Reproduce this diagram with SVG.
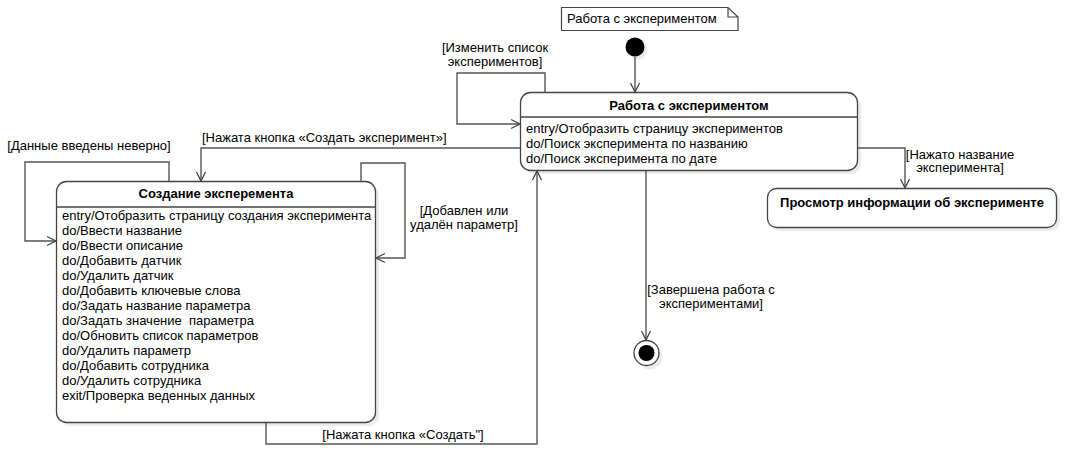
<svg xmlns="http://www.w3.org/2000/svg" width="1069" height="454" viewBox="0 0 1069 454">
<style>
text{font-family:"Liberation Sans",Arial,sans-serif;font-size:13px;fill:#000}
.b{font-weight:bold}
.c{text-anchor:middle}
.st{fill:#fff;stroke:#444;stroke-width:1.3}
.sh{fill:#000;opacity:0.08}
.ln{fill:none;stroke:#555;stroke-width:1.4}
</style>
<defs>
<marker id="a" markerUnits="userSpaceOnUse" markerWidth="12" markerHeight="12" viewBox="-10 -6 12 12" refX="0" refY="0" orient="auto">
<path d="M-9,-4.5 L0,0 L-9,4.5" fill="none" stroke="#444" stroke-width="1.3"/>
</marker>
</defs>
<rect width="1069" height="454" fill="#fff"/>
<g id="note">
<path d="M561.5,7.5 H728 L738,17 V30.5 H561.5 Z M728,7.5 V17 H738" fill="#fff" stroke="#444" stroke-width="1.2"/>
<text x="567" y="23">Работа с экспериментом</text>
</g>
<g id="initial">
<circle cx="638" cy="50" r="9.5" class="sh"/>
<circle cx="635" cy="47" r="9.5" fill="#000"/>
</g>
<g id="main">
<rect x="524" y="96" width="337" height="78" rx="10" class="sh"/>
<rect x="520.5" y="92.5" width="337" height="78" rx="10" class="st"/>
<line x1="520.5" y1="117" x2="857.5" y2="117" stroke="#444" stroke-width="1.3"/>
<text x="689" y="110" class="b c">Работа с экспериментом</text>
<text x="526" y="133">entry/Отобразить страницу экспериментов</text>
<text x="526" y="148">do/Поиск эксперимента по названию</text>
<text x="526" y="163">do/Поиск эксперимента по дате</text>
</g>
<g id="create">
<rect x="60" y="185" width="319" height="241" rx="10" class="sh"/>
<rect x="56.5" y="181.5" width="319" height="241" rx="10" class="st"/>
<line x1="56.5" y1="207" x2="375.5" y2="207" stroke="#444" stroke-width="1.3"/>
<text x="216" y="198" class="b c">Создание эксперемента</text>
<text x="62" y="220">entry/Отобразить страницу создания эксперимента</text>
<text x="62" y="235">do/Ввести название</text>
<text x="62" y="250">do/Ввести описание</text>
<text x="62" y="265">do/Добавить датчик</text>
<text x="62" y="280">do/Удалить датчик</text>
<text x="62" y="295">do/Добавить ключевые слова</text>
<text x="62" y="310">do/Задать название параметра</text>
<text x="62" y="325" xml:space="preserve">do/Задать значение  параметра</text>
<text x="62" y="340">do/Обновить список параметров</text>
<text x="62" y="355">do/Удалить параметр</text>
<text x="62" y="370">do/Добавить сотрудника</text>
<text x="62" y="385">do/Удалить сотрудника</text>
<text x="62" y="400">exit/Проверка веденных данных</text>
</g>
<g id="info">
<rect x="771" y="192" width="289" height="39" rx="9" class="sh"/>
<rect x="767.5" y="188.5" width="289" height="39" rx="9" class="st"/>
<text x="912" y="207" class="b c">Просмотр информации об эксперименте</text>
</g>
<g id="final">
<circle cx="650" cy="357" r="12.5" class="sh"/>
<circle cx="646.5" cy="353" r="12.5" fill="#fff" stroke="#444" stroke-width="1.3"/>
<circle cx="646.5" cy="353" r="8" fill="#000"/>
</g>
<g id="connectors">
<path class="ln" d="M635,57 V92" marker-end="url(#a)"/>
<path class="ln" d="M545,92 V73 H457 V124 H520" marker-end="url(#a)"/>
<path class="ln" d="M520,148 H201 V181" marker-end="url(#a)"/>
<path class="ln" d="M169,181 V162 H25 V241 H56" marker-end="url(#a)"/>
<path class="ln" d="M361,181 V163 H405 V258 H376" marker-end="url(#a)"/>
<path class="ln" d="M266,423 V444 H537 V171" marker-end="url(#a)"/>
<path class="ln" d="M646,171 V340" marker-end="url(#a)"/>
<path class="ln" d="M858,148 H905 V188" marker-end="url(#a)"/>
<text x="495" y="52" class="c">[Изменить список</text>
<text x="495" y="66" class="c">экспериментов]</text>
<text x="89" y="150" class="c">[Данные введены неверно]</text>
<text x="202" y="142">[Нажата кнопка «Создать эксперимент»]</text>
<text x="464" y="215" class="c">[Добавлен или</text>
<text x="464" y="229" class="c">удалён параметр]</text>
<text x="403" y="439" class="c">[Нажата кнопка «Создать"]</text>
<text x="711" y="294" class="c">[Завершена работа с</text>
<text x="711" y="308" class="c">экспериментами]</text>
<text x="960" y="159" class="c">[Нажато название</text>
<text x="960" y="172" class="c">эксперимента]</text>
</g>
</svg>
